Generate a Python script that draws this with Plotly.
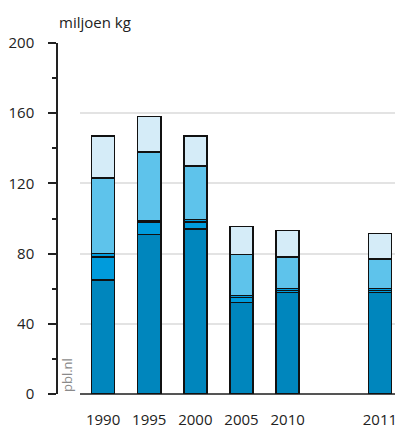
import plotly.graph_objects as go

categories = ["1990", "1995", "2000", "2005", "2010", " ", "2011"]
years = ["1990", "1995", "2000", "2005", "2010", "2011"]
series_dark = [65, 91, 94, 52, 57.7, 57.7]
series_medium = [13, 7, 4, 3, 1.2, 1.2]
series_thin = [2, 1, 1.5, 1, 1.3, 1.3]
series_light = [43, 39, 30.5, 23.5, 18, 16.8]
series_pale = [24, 20, 17, 16, 15, 14.5]
y_ticks = [0, 40, 80, 120, 160, 200]

colors = ["#0086bd", "#009bdc", "#009bdc", "#5ec3eb", "#d5ecf8"]
series = [series_dark, series_medium, series_thin, series_light, series_pale]

fig = go.Figure()
for vals, col in zip(series, colors):
    fig.add_trace(go.Bar(
        x=years, y=vals, width=0.5,
        marker=dict(color=col, line=dict(color="#111111", width=1.5)),
        showlegend=False, hoverinfo="skip",
    ))

# page body has an 8px default margin -> compensate
OFF = 8
W, H = 403 - OFF, 432 - OFF
ml, mr = 32, 0
mt = 43 - OFF
mb = H - (394 - OFF)
pw = W - ml - mr
ph = H - mt - mb
axis_px = 57 - OFF
plot_left_px = 80 - OFF

fig.update_layout(
    width=W, height=H,
    margin=dict(l=ml, r=mr, t=mt, b=mb),
    barmode="stack",
    plot_bgcolor="white", paper_bgcolor="white",
    font=dict(family="Open Sans, Lato, sans-serif", size=15, color="#222222"),
    xaxis=dict(
        type="category",
        categoryorder="array", categoryarray=categories,
        range=[-0.5, 6.5],
        domain=[(plot_left_px - ml) / pw, 1],
        showgrid=False, showline=False, zeroline=False,
        ticks="", ticklabelstandoff=15,
        tickfont=dict(size=15, color="#222222"),
    ),
    yaxis=dict(
        range=[0, 200],
        anchor="free",
        position=(axis_px - ml) / pw,
        tickvals=y_ticks,
        ticks="outside", ticklen=8, tickwidth=1.5, tickcolor="#222222",
        minor=dict(dtick=20, tick0=0, ticks="outside", ticklen=4, tickwidth=1.5, tickcolor="#222222"),
        showline=True, linecolor="#222222", linewidth=1.5,
        showgrid=True, gridcolor="#e3e3e3", gridwidth=1.5,
        zeroline=True, zerolinecolor="#555555", zerolinewidth=2,
        ticklabelstandoff=11,
        tickfont=dict(size=15, color="#222222"),
    ),
    annotations=[
        dict(text="miljoen kg", xref="paper", yref="paper",
             x=(57 - OFF - ml) / pw, y=1 + (43 - 22) / ph,
             xanchor="left", yanchor="middle", showarrow=False,
             font=dict(size=15, color="#222222")),
        dict(text="pbl.nl", xref="paper", yref="paper",
             x=(67 - OFF - ml) / pw, y=0, xanchor="center", yanchor="bottom",
             textangle=-90, showarrow=False,
             font=dict(size=13, color="#8a8a8a")),
    ],
)

fig.write_html("out.html")
